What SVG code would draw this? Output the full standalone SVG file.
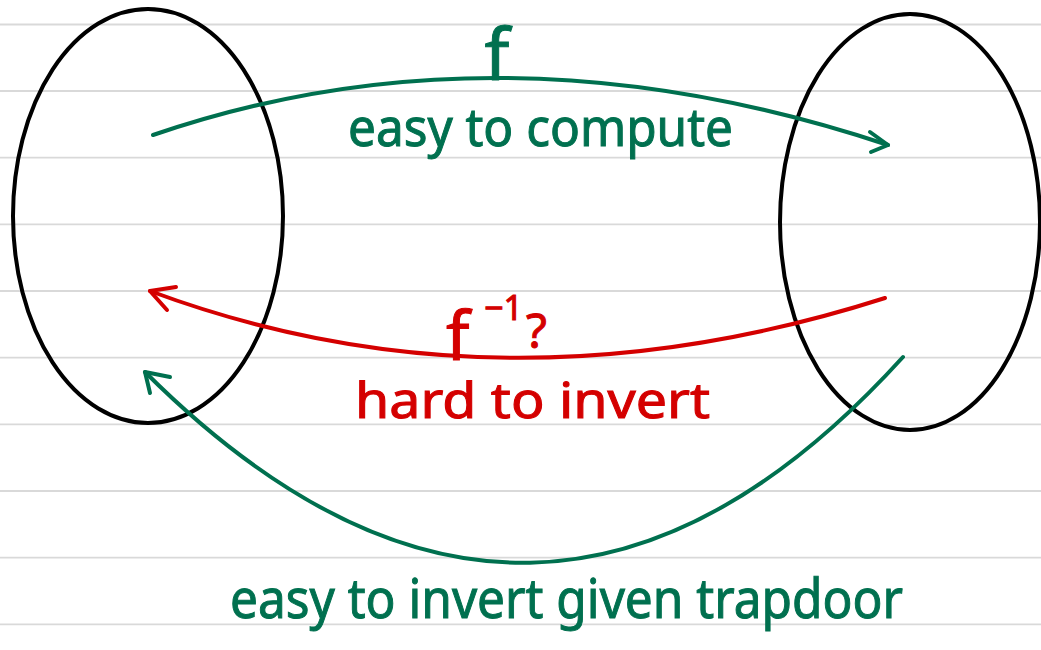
<svg xmlns="http://www.w3.org/2000/svg" width="1041" height="650" viewBox="0 0 1041 650">
  <style>
    .rule { stroke: #d9d9d9; stroke-width: 1.8; }
    .set { fill: none; stroke: #000000; stroke-width: 4; }
    .green { fill: none; stroke: #00704f; stroke-width: 4; stroke-linecap: round; stroke-linejoin: round; }
    .red { fill: none; stroke: #d40000; stroke-width: 4; stroke-linecap: round; stroke-linejoin: round; }
    .tg { fill: #00704f; stroke: #00704f; stroke-width: 1; font-family: "Noto Sans", "DejaVu Sans", sans-serif; }
    .tr { fill: #d40000; stroke: #d40000; stroke-width: 1; font-family: "Noto Sans", "DejaVu Sans", sans-serif; }
  </style>
  <rect width="1041" height="650" fill="#ffffff"/>
  <g id="ruled-lines">
    <line class="rule" x1="0" y1="24.5" x2="1041" y2="24.5"/>
    <line class="rule" x1="0" y1="91" x2="1041" y2="91"/>
    <line class="rule" x1="0" y1="157.7" x2="1041" y2="157.7"/>
    <line class="rule" x1="0" y1="224.3" x2="1041" y2="224.3"/>
    <line class="rule" x1="0" y1="291" x2="1041" y2="291"/>
    <line class="rule" x1="0" y1="357.7" x2="1041" y2="357.7"/>
    <line class="rule" x1="0" y1="424.3" x2="1041" y2="424.3"/>
    <line class="rule" x1="0" y1="491" x2="1041" y2="491"/>
    <line class="rule" x1="0" y1="557.7" x2="1041" y2="557.7"/>
    <line class="rule" x1="0" y1="624.3" x2="1041" y2="624.3"/>
  </g>
  <g id="domain">
    <ellipse class="set" cx="148" cy="216" rx="135" ry="207"/>
  </g>
  <g id="codomain">
    <ellipse class="set" cx="910" cy="222" rx="130" ry="208"/>
  </g>
  <g id="connectors">
    <path class="green" d="M153,135 Q500,16 888,145"/>
    <path class="green" d="M870,132 L888,145 L871,152"/>
    <path class="red" d="M885,298 Q500,421 150,291"/>
    <path class="red" d="M176,287 L150,291 L167,310"/>
    <path class="green" d="M903,357 Q536,761 145,372"/>
    <path class="green" d="M170,377 L145,372 L150,393"/>
  </g>
  <g id="labels">
    <text class="tg" x="497" y="80" font-size="72" text-anchor="middle">f</text>
    <text class="tg" x="348" y="146" font-size="52" textLength="385" lengthAdjust="spacingAndGlyphs">easy to compute</text>
    <text class="tr" font-size="68"><tspan x="446" y="360">f</tspan><tspan x="484" y="320" font-size="34">−1</tspan><tspan x="526" y="348" font-size="48">?</tspan></text>
    <text class="tr" x="355" y="418" font-size="50" textLength="355" lengthAdjust="spacingAndGlyphs">hard to invert</text>
    <text class="tg" x="230" y="618" font-size="54" textLength="673" lengthAdjust="spacingAndGlyphs">easy to invert given trapdoor</text>
  </g>
</svg>
